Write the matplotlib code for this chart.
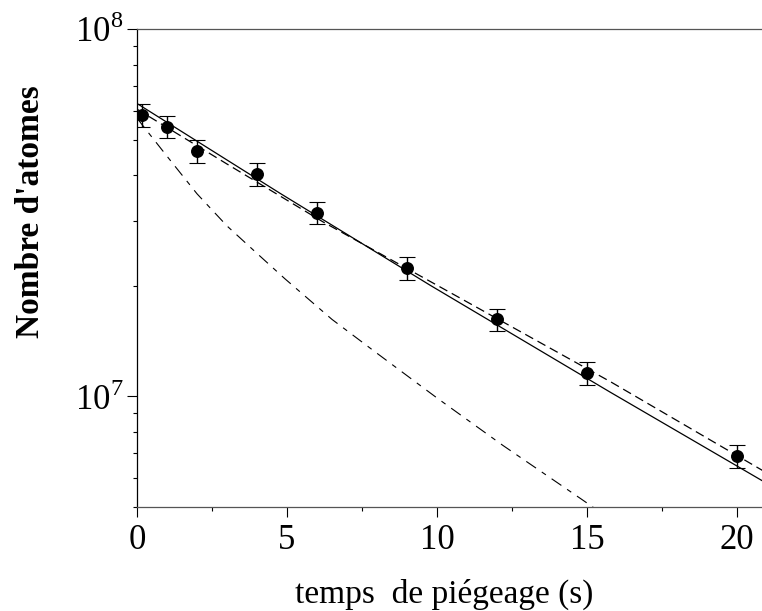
import numpy as np
import matplotlib
matplotlib.use('Agg')
from matplotlib import pyplot as plt
from matplotlib.ticker import LogLocator, MultipleLocator, FuncFormatter, NullFormatter

plt.rcParams['font.family'] = ['Liberation Serif', 'DejaVu Serif']
plt.rcParams['mathtext.fontset'] = 'custom'
plt.rcParams['mathtext.rm'] = 'Liberation Serif'
plt.rcParams['lines.scale_dashes'] = False

# mesures
t_mes = [0.15, 1, 2, 4, 6, 9, 12, 15, 20]
n_mes = [5.83e7, 5.42e7, 4.65e7, 4.03e7, 3.16e7, 2.24e7, 1.62e7, 1.157e7, 6.88e6]
n_err = [4.1e6, 3.8e6, 3.3e6, 2.8e6, 2.2e6, 1.6e6, 1.1e6, 0.8e6, 0.48e6]

# ajustement (trait plein)
t_fit = [0, 4.77, 9.77, 15.77, 20.83]
n_fit = [6.27e7, 3.57e7, 2.007e7, 1.027e7, 5.90e6]

# ajustement (tirets)
t_fit2 = [0, 3, 6.2, 10.8, 15.8, 20.9]
n_fit2 = [6.05e7, 4.29e7, 2.985e7, 1.846e7, 1.094e7, 6.25e6]

# courbe tiret-point
t_fit3 = [0, 0.27, 1.1, 2.0, 3.0, 4.0, 4.93, 6.5, 8.0, 10.0, 12.2, 14.8, 15.5]
n_fit3 = [5.72e7, 5.36e7, 4.40e7, 3.56e7, 2.91e7, 2.45e7, 2.09e7, 1.62e7, 1.31e7, 9.9e6, 7.35e6, 5.26e6, 4.8e6]

fig = plt.figure(figsize=(7.62, 6.11), dpi=100)
ax = fig.add_axes([137 / 762, 1 - 507 / 611, 1 - 137 / 762, (507 - 29) / 611])

ax.plot(t_fit, n_fit, color='black', lw=0.9)
ax.plot(t_fit2, n_fit2, color='black', lw=0.9, dashes=(6.5, 3.6))
ax.plot(t_fit3, n_fit3, color='black', lw=0.8, dashes=(8.5, 5, 3.6, 5))
ax.errorbar(t_mes, n_mes, yerr=n_err, fmt='o', color='black', ms=8.3,
            ecolor='black', elinewidth=1.0, capsize=6, capthick=0.8)

ax.set_yscale('log')
ax.set_xlim(0, 20.83)
ax.set_ylim(5e6, 1e8)

ax.xaxis.set_major_locator(MultipleLocator(5))
ax.xaxis.set_minor_locator(MultipleLocator(2.5))
ax.yaxis.set_major_locator(LogLocator(base=10))
ax.yaxis.set_minor_locator(LogLocator(base=10, subs=np.arange(2, 10)))
ax.yaxis.set_minor_formatter(NullFormatter())
ax.yaxis.set_major_formatter(FuncFormatter(lambda v, p: r'$10^{%d}$' % round(np.log10(v))))

ax.tick_params(axis='both', which='major', length=7, width=0.8, labelsize=25, direction='out')
ax.tick_params(axis='x', which='minor', length=3, width=0.8, direction='out')
ax.tick_params(axis='y', which='minor', length=3, width=0.8, direction='out')
ax.tick_params(axis='x', which='major', pad=5)
ax.tick_params(axis='y', which='major', pad=3)

ax.spines['right'].set_visible(False)
ax.spines['top'].set_color('#555555')
ax.spines['bottom'].set_color('#555555')
for s in ax.spines.values():
    s.set_linewidth(0.9)

ax.set_xlabel('temps  de piégeage (s)', fontsize=24, va='center')
ax.xaxis.set_label_coords(0.491, -0.183)
ax.set_ylabel("Nombre d'atomes", fontsize=24, fontweight='bold',
              ha='center', va='center', rotation_mode='default')
ax.yaxis.set_label_coords(-0.17, 0.617)

fig.savefig('out.png', dpi=100)
